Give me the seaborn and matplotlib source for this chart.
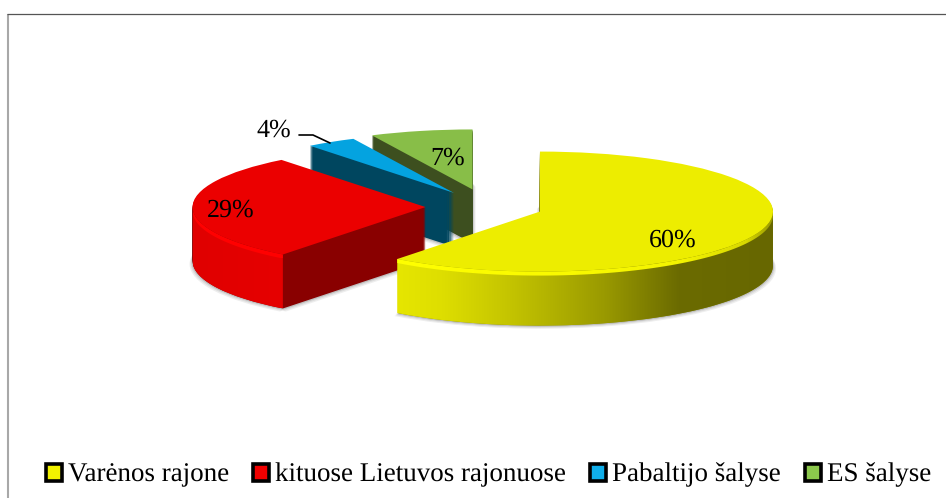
import numpy as np
import matplotlib
matplotlib.use("Agg")
import matplotlib.pyplot as plt
import seaborn as sns
from matplotlib.colors import LinearSegmentedColormap
from matplotlib.patches import Patch, Polygon

# ---- data ----
categories = ["Varėnos rajone", "kituose Lietuvos rajonuose", "Pabaltijo šalyse", "ES šalyse"]
values = [60.49, 28.9, 3.5, 7.11]
value_labels = ["60%", "29%", "4%", "7%"]
explode = [0.2357, 0.268, 0.276, 0.30]
top_colors = ["#EDED00", "#EB0000", "#04A3E0", "#88BE48"]
cut_colors = ["#8A8A00", "#890000", "#00465F", "#3D4F1F"]
legend_colors = ["#F2F200", "#F00000", "#10AEEA", "#8CC84C"]

# ---- layout (pixels) ----
W, H = 946, 498
CX, CY, RX, RY, DEPTH = 488, 207, 233, 60, 54

sns.set_theme(style="white")
plt.rcParams["font.family"] = ["Liberation Serif", "DejaVu Sans"]
plt.rcParams["text.hinting"] = "none"
plt.rcParams["text.hinting_factor"] = 1

fig = plt.figure(figsize=(W / 100, H / 100), dpi=100, facecolor="white")
ax = fig.add_axes([0, 0, 1, 1])


def px(x, y):
    return (x - CX) / RX, (CY - y) / RY


palette = sns.color_palette(top_colors)
order = [3, 2, 1, 0]  # back to front
z = [10]


def wedge(i, color, dx=0.0, dy=0.0, zorder=None):
    ws, _ = ax.pie(values, explode=explode, startangle=90, counterclock=False, radius=1,
                   center=(dx / RX, -dy / RY), colors=[color] * len(values),
                   wedgeprops={"linewidth": 0})
    for j, w in enumerate(ws):
        if j != i:
            w.remove()
    ws[i].set_zorder(z[0] if zorder is None else zorder)
    z[0] += 1
    return ws[i]


def band(w, y0, y1, cmap):
    """Gradient-filled strip of the outer rim, between two depths below the top face."""
    a = max(w.theta1, -180)
    b = min(w.theta2, 0)
    if b <= a:
        return
    t = np.radians(np.linspace(a, b, 200))
    cx, cy = w.center
    xs = cx + np.cos(t)
    ys = cy + np.sin(t)
    poly = np.r_[np.c_[xs, ys - y0 / RY], np.c_[xs, ys - y1 / RY][::-1]]
    grad = np.linspace(0, 1, 512).reshape(1, -1)
    im = ax.imshow(grad, cmap=cmap, aspect="auto", interpolation="bilinear",
                   extent=(xs.min(), xs.max(), poly[:, 1].min(), poly[:, 1].max()),
                   zorder=z[0])
    z[0] += 1
    im.set_clip_path(Polygon(poly, closed=True, transform=ax.transData))


# ground shadow
for off, grey in [(3, "#eeeeee"), (2, "#dcdcdc"), (1, "#c0c0c0")]:
    for i in order:
        for sx in (-off, off):
            wedge(i, grey, dx=sx, dy=DEPTH + off, zorder=1)

side_cmaps = {
    0: LinearSegmentedColormap.from_list("y", [(0, "#E6E600"), (0.12, "#DEDE00"), (0.30, "#C4C400"),
                                               (0.55, "#9A9A00"), (0.75, "#6B6B00"), (1, "#676700")]),
    1: LinearSegmentedColormap.from_list("r", ["#E00000", "#E60000"]),
}
rim_cmaps = {
    0: LinearSegmentedColormap.from_list("yr", [(0, "#FFFF00"), (0.75, "#F4F400"), (0.93, "#D8D800"), (1, "#9A9A00")]),
    1: LinearSegmentedColormap.from_list("rr", ["#FF0000", "#FF0000"]),
}

for i in order:
    for d in range(DEPTH, 0, -1):
        top = wedge(i, cut_colors[i], dy=d)
    if i in side_cmaps:
        band(top, -1, DEPTH - 1, side_cmaps[i])
        band(top, -1, 3, rim_cmaps[i])
    wedge(i, palette[i])

# labels
label_pos = [(673, 240), (231, 210), (274, 130), (448, 158)]
for txt, (x, y) in zip(value_labels, label_pos):
    dx, dy = px(x, y)
    ax.text(dx, dy, txt, ha="center", va="center", fontsize=18.5, color="black", zorder=5000)

lx, ly = zip(*[px(299, 135), px(313, 135), px(330, 143)])
ax.plot(lx, ly, color="black", lw=1.2, zorder=5000)

# chart frame
fx, fy = zip(*[px(7.5, 498), px(7.5, 13.5)])
ax.plot(fx, fy, color="#A8A8A8", lw=1.5, zorder=5000, solid_capstyle="butt")
fx, fy = zip(*[px(7, 13.5), px(946, 13.5)])
ax.plot(fx, fy, color="#555555", lw=0.9, zorder=5000, solid_capstyle="butt")

ax.set_xlim(-CX / RX, (W - CX) / RX)
ax.set_ylim((CY - H) / RY, CY / RY)
ax.set_aspect("auto")
ax.axis("off")

handles = [Patch(facecolor=c, edgecolor="black", linewidth=2.6) for c in legend_colors]
fig.legend(handles, categories, loc="center", bbox_to_anchor=(488.5 / W, 1 - 475 / H), ncol=4,
           frameon=False, fontsize=19.3, handlelength=0.6, handleheight=0.6, handletextpad=0.2,
           columnspacing=0.92, borderpad=0, labelcolor="black")

fig.savefig("out.png", dpi=100, facecolor="white")
